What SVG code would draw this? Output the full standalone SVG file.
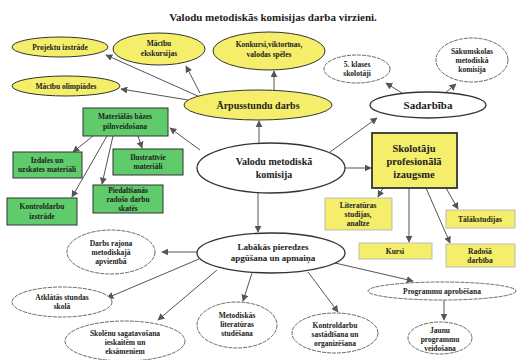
<svg xmlns="http://www.w3.org/2000/svg" width="518" height="360" viewBox="0 0 518 360" font-family="'Liberation Serif', 'Times New Roman', serif">
<style>
text{font-family:'Liberation Serif','Times New Roman',serif;font-weight:bold;fill:#222;text-anchor:middle}
.s{font-size:7.5px}
.m{font-size:11px}
.l{font-size:10.5px}
.y{fill:#f4ee6a;stroke:#333;stroke-width:1}
.g{fill:#5fcb6b;stroke:#333;stroke-width:1}
.w{fill:#fff;stroke:#333;stroke-width:1}
.wd{fill:#fff;stroke:#444;stroke-width:0.8;stroke-dasharray:4 1}
.c line{stroke:#555;stroke-width:1;marker-end:url(#a)}
</style>
<defs>
<marker id="a" viewBox="0 0 10 10" refX="9" refY="5" markerWidth="7" markerHeight="7" orient="auto" markerUnits="userSpaceOnUse"><path d="M0,0 L10,5 L0,10 z" fill="#555"/></marker>
</defs>
<rect width="518" height="360" fill="#fff"/>
<text x="273" y="21" class="m">Valodu metodiskās komisijas darba virzieni.</text>

<g class="c">
<line x1="200" y1="97" x2="106" y2="55"/>
<line x1="188" y1="100" x2="121" y2="89"/>
<line x1="200" y1="93" x2="186" y2="66"/>
<line x1="274" y1="90" x2="274" y2="71"/>
<line x1="259" y1="143" x2="259" y2="121"/>
<line x1="200" y1="150" x2="170" y2="128"/>
<line x1="93" y1="136" x2="73" y2="152"/>
<line x1="138" y1="136" x2="142" y2="148"/>
<line x1="107" y1="136" x2="72" y2="197"/>
<line x1="113" y1="136" x2="102" y2="184"/>
<line x1="330" y1="152" x2="377" y2="118"/>
<line x1="345" y1="168" x2="371" y2="168"/>
<line x1="402" y1="93" x2="386" y2="83"/>
<line x1="445" y1="93" x2="456" y2="84"/>
<line x1="383" y1="188" x2="378" y2="197"/>
<line x1="409" y1="188" x2="409" y2="242"/>
<line x1="426" y1="188" x2="450" y2="243"/>
<line x1="446" y1="188" x2="458" y2="209"/>
<line x1="258" y1="193" x2="258" y2="232"/>
<line x1="197" y1="252" x2="162" y2="252"/>
<line x1="199" y1="259" x2="107" y2="298"/>
<line x1="217" y1="270" x2="158" y2="320"/>
<line x1="252" y1="273" x2="243" y2="301"/>
<line x1="308" y1="272" x2="338" y2="312"/>
<line x1="335" y1="263" x2="413" y2="281"/>
<line x1="444" y1="300" x2="444" y2="320"/>
</g>

<g id="projektu"><ellipse cx="60" cy="47" rx="48" ry="10" class="y"/><text x="60" y="50" class="s">Projektu izstrāde</text></g>
<g id="ekskursijas"><ellipse cx="159" cy="49" rx="46" ry="16" class="y"/><text x="159" y="46" class="s">Mācību</text><text x="159" y="56" class="s">ekskursijas</text></g>
<g id="konkursi"><ellipse cx="269" cy="51" rx="56" ry="19" class="y"/><text x="269" y="47" class="s">Konkursi,viktorīnas,</text><text x="269" y="57" class="s">valodas spēles</text></g>
<g id="olimpiades"><ellipse cx="66" cy="86" rx="54" ry="10" class="y"/><text x="66" y="89" class="s">Mācību olimpiādes</text></g>
<g id="arpusstundu"><ellipse cx="258" cy="105" rx="74" ry="15" class="y"/><text x="258" y="109" style="font-size:10px">Ārpusstundu darbs</text></g>

<g id="materialas"><rect x="83" y="108" width="85" height="28" class="g"/><text x="125" y="119" class="s">Materiālās bāzes</text><text x="125" y="129" class="s">pilnveidošana</text></g>
<g id="izdales"><rect x="13" y="152" width="69" height="26" class="g"/><text x="47" y="163" class="s">Izdales un</text><text x="47" y="172" class="s">uzskates materiāli</text></g>
<g id="ilustrativie"><rect x="113" y="149" width="70" height="26" class="g"/><text x="148" y="160" class="s">Ilustratīvie</text><text x="148" y="169" class="s">materiāli</text></g>
<g id="piedalisanas"><rect x="93" y="185" width="70" height="28" class="g"/><text x="128" y="193" class="s">Piedalīšanās</text><text x="128" y="202" class="s">radošo darbu</text><text x="128" y="211" class="s">skatēs</text></g>
<g id="kontroldarbu"><rect x="7" y="198" width="70" height="27" class="g"/><text x="42" y="209" class="s">Kontroldarbu</text><text x="42" y="219" class="s">izstrāde</text></g>

<g id="valodu"><ellipse cx="271" cy="168" rx="74" ry="25" class="w" style="stroke-width:1.3"/><text x="274" y="165" style="font-size:10px">Valodu metodiskā</text><text x="274" y="178" style="font-size:10px">komisija</text></g>

<g id="sadarbiba"><ellipse cx="428" cy="105" rx="58" ry="13" class="w" style="stroke-width:1.3"/><text x="428" y="109" class="m">Sadarbība</text></g>
<g id="klases"><ellipse cx="357" cy="69" rx="33" ry="14" class="wd"/><text x="357" y="67" class="s">5. klases</text><text x="357" y="76" class="s">skolotāji</text></g>
<g id="sakumskolas"><ellipse cx="472" cy="60" rx="36" ry="22" class="wd"/><text x="472" y="54" class="s">Sākumskolas</text><text x="472" y="63" class="s">metodiskā</text><text x="472" y="72" class="s">komisija</text></g>

<g id="skolotaju"><rect x="372" y="133" width="85" height="55" class="y" style="stroke-width:1.8"/><text x="414" y="152" class="l">Skolotāju</text><text x="414" y="165" class="l">profesionālā</text><text x="414" y="178" class="l">izaugsme</text></g>
<g id="literaturas"><rect x="325" y="198" width="67" height="32" class="y" style="stroke:#bbb"/><text x="358" y="208" class="s">Literatūras</text><text x="358" y="217" class="s">studijas,</text><text x="358" y="226" class="s">analīze</text></g>
<g id="talakstudijas"><rect x="446" y="210" width="69" height="18" class="y" style="stroke:#bbb"/><text x="480" y="222" class="s">Tālākstudijas</text></g>
<g id="kursi"><rect x="359" y="243" width="73" height="16" class="y" style="stroke:#bbb"/><text x="395" y="254" class="s">Kursi</text></g>
<g id="radosa"><rect x="446" y="244" width="69" height="23" class="y" style="stroke:#bbb"/><text x="480" y="254" class="s">Radošā</text><text x="480" y="263" class="s">darbība</text></g>

<g id="labakas"><ellipse cx="271" cy="253" rx="74" ry="20" class="w" style="stroke-width:1.3"/><text x="273" y="250" style="font-size:9px">Labākās pieredzes</text><text x="273" y="261" style="font-size:9px">apgūšana un apmaiņa</text></g>
<g id="darbs"><ellipse cx="111" cy="252" rx="44" ry="22" class="wd"/><text x="111" y="246" class="s">Darbs rajona</text><text x="111" y="255" class="s">metodiskajā</text><text x="111" y="264" class="s">apvienībā</text></g>
<g id="atklatas"><ellipse cx="62" cy="302" rx="50" ry="15" class="wd"/><text x="62" y="300" class="s">Atklātās stundas</text><text x="62" y="309" class="s">skolā</text></g>
<g id="skolenu"><ellipse cx="125" cy="341" rx="60" ry="20" class="wd"/><text x="125" y="336" class="s">Skolēnu sagatavošana</text><text x="125" y="345" class="s">ieskaitēm un</text><text x="125" y="354" class="s">eksāmeniem</text></g>
<g id="metodiskas"><ellipse cx="237" cy="325" rx="40" ry="23" class="wd"/><text x="237" y="318" class="s">Metodiskās</text><text x="237" y="327" class="s">literatūras</text><text x="237" y="336" class="s">studēšana</text></g>
<g id="kontroldarbu2"><ellipse cx="335" cy="333" rx="43" ry="20" class="wd"/><text x="335" y="328" class="s">Kontroldarbu</text><text x="335" y="337" class="s">sastādīšana un</text><text x="335" y="346" class="s">organizēšana</text></g>
<g id="programmu"><ellipse cx="442" cy="291" rx="74" ry="9" class="wd"/><text x="442" y="294" class="s">Programmu aprobēšana</text></g>
<g id="jaunu"><ellipse cx="440" cy="338" rx="32" ry="16" class="wd"/><text x="440" y="333" class="s">Jaunu</text><text x="440" y="342" class="s">programmu</text><text x="440" y="351" class="s">veidošana</text></g>
</svg>
